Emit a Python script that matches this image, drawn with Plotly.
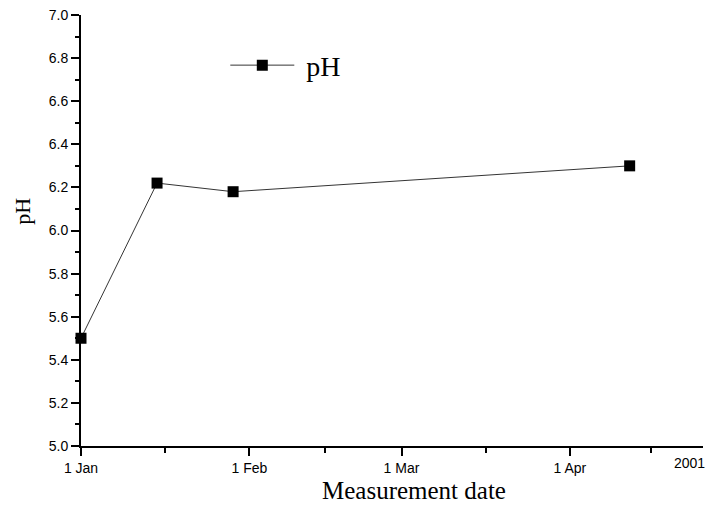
import plotly.graph_objects as go

# Data
dates = ["2001-01-01", "2001-01-15", "2001-01-29", "2001-04-12"]
ph_values = [5.50, 6.22, 6.18, 6.30]

x_tick_vals = ["2001-01-01", "2001-02-01", "2001-03-01", "2001-04-01"]
x_tick_text = ["1 Jan", "1 Feb", "1 Mar", "1 Apr"]
x_minor_vals = ["2001-01-16 12:00", "2001-02-15", "2001-03-16 12:00", "2001-04-16"]

tick_font = dict(family="Liberation Sans, Arial", size=14, color="black")
serif = "Liberation Serif, Times New Roman, serif"

fig = go.Figure()
fig.add_trace(go.Scatter(
    x=dates, y=ph_values, mode="lines+markers", name="\u00a0pH",
    line=dict(color="black", width=0.8),
    marker=dict(symbol="square", size=11, color="black"),
    cliponaxis=False,
))

fig.update_layout(
    width=705, height=507,
    margin=dict(l=81, r=2, t=15, b=61),
    paper_bgcolor="white", plot_bgcolor="white",
    showlegend=True,
    legend=dict(x=0.232, y=0.883, xanchor="left", yanchor="middle", itemwidth=64,
                font=dict(family=serif, size=28, color="black"),
                bgcolor="rgba(0,0,0,0)"),
    xaxis=dict(
        type="date", range=["2001-01-01", "2001-04-25 12:00"], automargin=False,
        tickmode="array", tickvals=x_tick_vals, ticktext=x_tick_text,
        ticks="outside", ticklen=8, tickwidth=2, tickcolor="black",
        showline=True, linecolor="black", linewidth=2,
        showgrid=False, zeroline=False, tickfont=tick_font,
        minor=dict(tickmode="array", tickvals=x_minor_vals, ticks="outside", ticklen=5, tickwidth=2, tickcolor="black"),
    ),
    yaxis=dict(
        range=[5.0, 7.0], tickmode="linear", tick0=5.0, dtick=0.2, tickformat=".1f", automargin=False,
        ticks="outside", ticklen=8, tickwidth=2, tickcolor="black",
        showline=True, linecolor="black", linewidth=2,
        showgrid=False, zeroline=False, tickfont=tick_font,
        minor=dict(tickmode="linear", tick0=5.0, dtick=0.1, ticks="outside", ticklen=4, tickwidth=2, tickcolor="black"),
    ),
    annotations=[
        dict(text="2001", xref="paper", yref="paper", x=0.979, y=0, yshift=-7,
             xanchor="center", yanchor="top", showarrow=False, font=tick_font),
        dict(text="pH", xref="paper", yref="paper", x=-0.094, y=0.545, textangle=-90,
             xanchor="center", yanchor="middle", showarrow=False,
             font=dict(family=serif, size=22, color="black")),
        dict(text="Measurement date", xref="paper", yref="paper", x=0.535, y=0, yshift=-44,
             xanchor="center", yanchor="middle", showarrow=False,
             font=dict(family=serif, size=25, color="black")),
    ],
)

fig.write_html("out.html", config={"displayModeBar": False},
               post_script="document.body.style.margin='0';")
